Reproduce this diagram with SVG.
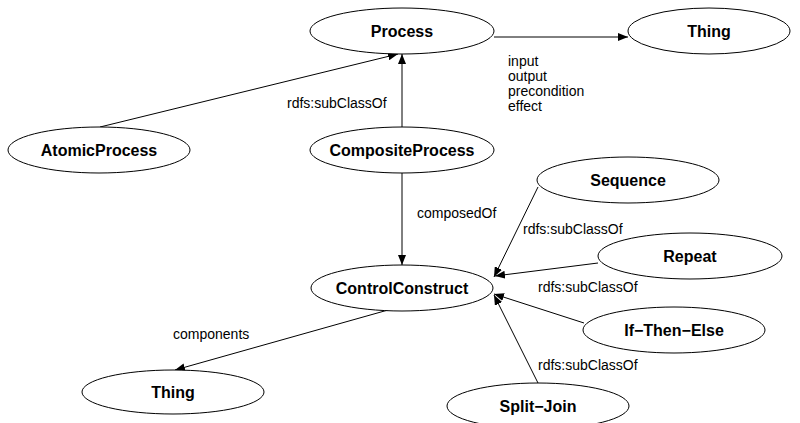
<svg xmlns="http://www.w3.org/2000/svg" width="800" height="423" viewBox="0 0 800 423">
<style>
.node ellipse{fill:#fff;stroke:#000;stroke-width:1}
.node text{font-family:"Liberation Sans",Arial,sans-serif;font-weight:bold;font-size:16px;text-anchor:middle;fill:#000}
.edges line{stroke:#000;stroke-width:1}
.lbl{font-family:"Liberation Sans",Arial,sans-serif;font-size:14px;fill:#000}
</style>
<defs>
<marker id="arr" viewBox="0 0 10 8" refX="10" refY="4" markerWidth="10" markerHeight="8" markerUnits="userSpaceOnUse" orient="auto">
<path d="M0,0 L10,4 L0,8 Z" fill="#000"/>
</marker>
</defs>
<rect width="800" height="423" fill="#fff"/>
<g class="edges">
<line x1="494" y1="37" x2="628" y2="37" marker-end="url(#arr)"/>
<line x1="100" y1="127" x2="398" y2="54" marker-end="url(#arr)"/>
<line x1="402" y1="127" x2="402" y2="54" marker-end="url(#arr)"/>
<line x1="402" y1="173" x2="402" y2="265" marker-end="url(#arr)"/>
<line x1="388" y1="310" x2="175" y2="370" marker-end="url(#arr)"/>
<line x1="538" y1="187" x2="494" y2="277" marker-end="url(#arr)"/>
<line x1="598" y1="263" x2="495" y2="276" marker-end="url(#arr)"/>
<line x1="584" y1="323" x2="494" y2="294" marker-end="url(#arr)"/>
<line x1="538" y1="383" x2="494" y2="295" marker-end="url(#arr)"/>
<text class="lbl" x="508" y="66">input</text>
<text class="lbl" x="508" y="81">output</text>
<text class="lbl" x="508" y="96">precondition</text>
<text class="lbl" x="508" y="111">effect</text>
<text class="lbl" x="287" y="108">rdfs:subClassOf</text>
<text class="lbl" x="417" y="218">composedOf</text>
<text class="lbl" x="523" y="234">rdfs:subClassOf</text>
<text class="lbl" x="538" y="292">rdfs:subClassOf</text>
<text class="lbl" x="538" y="370">rdfs:subClassOf</text>
<text class="lbl" x="173" y="339">components</text>
</g>
<g id="process" class="node"><ellipse cx="402" cy="31" rx="92" ry="23"/><text x="402" y="37">Process</text></g>
<g id="thing1" class="node"><ellipse cx="709" cy="31" rx="81" ry="23"/><text x="709" y="37">Thing</text></g>
<g id="atomic" class="node"><ellipse cx="99" cy="150" rx="91" ry="23"/><text x="99" y="156">AtomicProcess</text></g>
<g id="composite" class="node"><ellipse cx="402" cy="150" rx="92" ry="23"/><text x="402" y="156">CompositeProcess</text></g>
<g id="control" class="node"><ellipse cx="402" cy="288" rx="91" ry="23"/><text x="402" y="294">ControlConstruct</text></g>
<g id="sequence" class="node"><ellipse cx="628" cy="180" rx="91" ry="23"/><text x="628" y="186">Sequence</text></g>
<g id="repeat" class="node"><ellipse cx="690" cy="256" rx="92" ry="23"/><text x="690" y="262">Repeat</text></g>
<g id="ifthenelse" class="node"><ellipse cx="674" cy="330" rx="91" ry="23"/><text x="674" y="336">If−Then−Else</text></g>
<g id="splitjoin" class="node"><ellipse cx="538" cy="406" rx="91" ry="23"/><text x="538" y="412">Split−Join</text></g>
<g id="thing2" class="node"><ellipse cx="173" cy="392" rx="91" ry="22"/><text x="173" y="398">Thing</text></g>
</svg>
